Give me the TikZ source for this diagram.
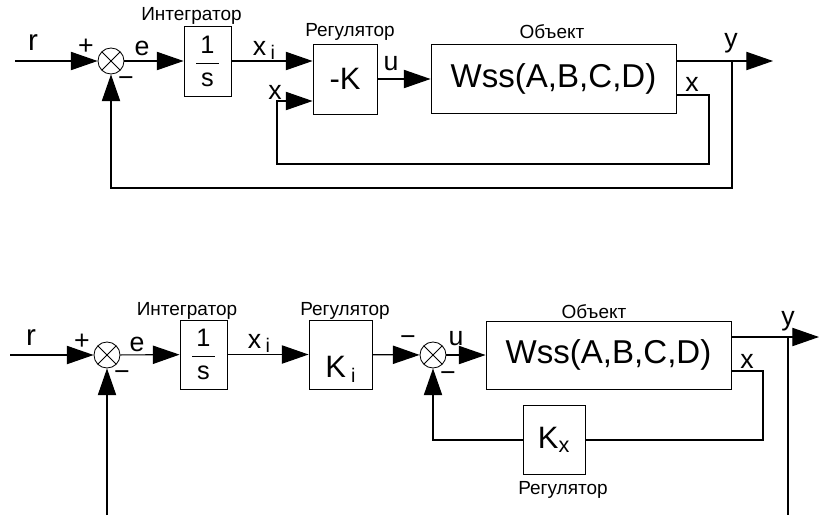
\documentclass[tikz,border=0pt]{standalone}
\usepackage{amsmath}
\usepackage{fontspec}
\setmainfont{Liberation Sans}
\usetikzlibrary{arrows.meta, positioning}

\newcommand{\subi}[1]{\,\raisebox{-0.35ex}{\fontsize{14}{14}\selectfont #1}}

\begin{document}
\begin{tikzpicture}[x=0.025cm, y=-0.025cm, line width=0.8pt,
  block/.style={draw, line width=0.6pt, inner sep=0pt, minimum height=1.75cm},
  sumnode/.style={draw, circle, line width=0.6pt, inner sep=0pt, minimum size=0.65cm,
    path picture={\draw[line width=0.6pt] (path picture bounding box.north west) -- (path picture bounding box.south east)
      (path picture bounding box.north east) -- (path picture bounding box.south west);}},
  sig/.style={-{Triangle[length=19pt, width=13pt]}},
  lbl/.style={font=\fontsize{13.5}{16}\selectfont, anchor=base, inner sep=0pt},
  sgn/.style={font=\fontsize{19}{22}\selectfont, anchor=base, inner sep=0pt},
  big/.style={font=\fontsize{22}{26}\selectfont},
  huge/.style={font=\fontsize{23.5}{28}\selectfont},
  frac/.style={font=\fontsize{18}{21}\selectfont}]
  \useasboundingbox (0,0) rectangle (819,515);

  % ---- Upper scheme ----
  % Summing junction
  \node[sumnode] (sum1) at (111,61) {};
  % Integrator
  \node[block, frac, minimum width=1.175cm] (int1) at (207.5,61) {$\dfrac{\text{\,1\,}}{\text{\,s\,}}$};
  \node[lbl] (lint1) at (191.5,20) {Интегратор};
  % Regulator
  \node[block, big, minimum width=1.6cm] (reg1) at (345,79) {-K};
  \node[lbl] (lreg1) at (350,36) {Регулятор};
  % Object
  \node[block, huge, minimum width=6.125cm, minimum height=1.725cm] (obj1) at (553.5,78.5) {Wss(A,B,C,D)};
  \node[lbl] (lobj1) at (552,38) {Объект};
  % Points
  \coordinate (in1) at (15,61);
  \coordinate (out1) at (773,61);
  \coordinate (br1) at (732,61);
  \coordinate (fb1) at (732,188);
  \coordinate (xo1) at (709,95);
  \coordinate (xb1) at (709,164);
  \coordinate (xin1) at (277,101);
  % Connections
  \draw[sig] (in1) -- (sum1);
  \draw[sig] (sum1) -- (int1);
  \draw[sig] (int1) -- (int1 -| reg1.west);
  \draw[sig] (reg1.east) -- (reg1.east -| obj1.west);
  \draw[sig] (obj1.east |- br1) -- (out1);
  \draw[sig] (br1) -- (fb1) -| (sum1);
  \draw[sig] (obj1.east |- xo1) -- (xo1) -- (xb1) -| (xin1) -- (xin1 -| reg1.west);
  % Signal labels
  \node[sgn, font=\fontsize{21}{24}\selectfont] (lr1) at (33,50) {r};
  \node[sgn, anchor=center] (lp1) at (86,47) {+};
  \node[sgn, anchor=center] (lm1) at (126,82) {−};
  \node[sgn] (le1) at (142,55) {e};
  \node[sgn] (lxi1) at (264,55) {x\subi{i}};
  \node[sgn] (lu1) at (391,70) {u};
  \node[sgn] (lx1) at (275,99) {x};
  \node[sgn] (ly1) at (731,47) {y};
  \node[sgn] (lxo1) at (692,91) {x};

  % ---- Lower scheme ----
  % Summing junctions
  \node[sumnode] (sum2) at (107,355) {};
  \node[sumnode] (sum3) at (433,355) {};
  % Integrator
  \node[block, frac, minimum width=1.175cm, minimum height=1.725cm] (int2) at (203.5,354.5) {$\dfrac{\text{\,1\,}}{\text{\,s\,}}$};
  \node[lbl] (lint2) at (187,315) {Интегратор};
  % Regulators
  \node[block, big, minimum width=1.575cm, minimum height=1.725cm, text height=32pt, text depth=0pt] (reg2) at (340.5,354.5) {K\subi{i}};
  \node[lbl] (lreg2) at (345,315) {Регулятор};
  \node[block, big, minimum width=1.55cm, minimum height=1.725cm] (kx) at (554,440) {K\textsubscript{x}};
  \node[lbl] (lkx) at (563,494) {Регулятор};
  % Object
  \node[block, huge, minimum width=6.125cm, minimum height=1.7cm] (obj2) at (608.5,355) {Wss(A,B,C,D)};
  \node[lbl] (lobj2) at (594,318) {Объект};
  % Points
  \coordinate (in2) at (10,355);
  \coordinate (fb2) at (107,515);
  \coordinate (out2) at (819,337);
  \coordinate (br2) at (788,337);
  \coordinate (bot2) at (788,515);
  \coordinate (xo2) at (763,371);
  % Connections
  \draw[sig] (in2) -- (sum2);
  \draw[sig] (fb2) -- (sum2);
  \draw[sig] (sum2) -- (int2);
  \draw[sig] (int2) -- (reg2);
  \draw[sig] (reg2) -- (sum3);
  \draw[sig] (sum3) -- (obj2);
  \draw[sig] (obj2.east |- out2) -- (out2);
  \draw (br2) -- (bot2);
  \draw (obj2.east |- xo2) -- (xo2) |- (kx);
  \draw[sig] (kx) -| (sum3);
  % Signal labels
  \node[sgn, font=\fontsize{21}{24}\selectfont] (lr2) at (31,345) {r};
  \node[sgn, anchor=center] (lp2) at (82,342) {+};
  \node[sgn, anchor=center] (lm2) at (122,376) {−};
  \node[sgn] (le2) at (137,351) {e};
  \node[sgn] (lxi2) at (259,348) {x\subi{i}};
  \node[sgn, anchor=center] (lm3) at (408,341) {−};
  \node[sgn] (lu2) at (456,345) {u};
  \node[sgn, anchor=center] (lm4) at (448,377) {−};
  \node[sgn] (ly2) at (788,325) {y};
  \node[sgn] (lxo2) at (747,368) {x};
\end{tikzpicture}
\end{document}
